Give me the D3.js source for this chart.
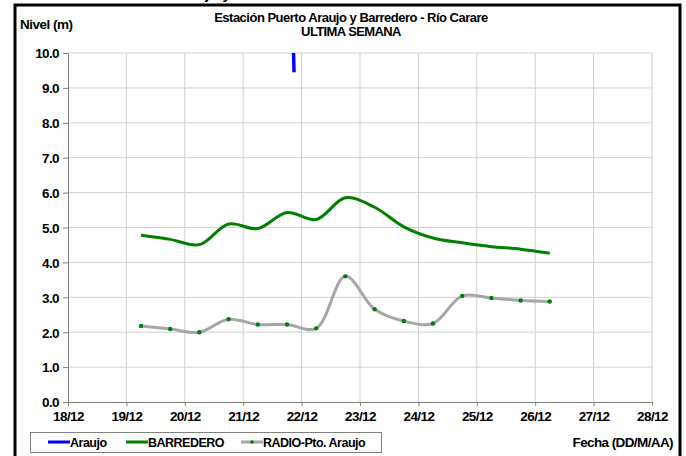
<!DOCTYPE html>
<html>
<head>
<meta charset="utf-8">
<script src="https://cdn.jsdelivr.net/npm/d3@7"></script>
<style>
body { margin: 0; background: #fff; }
text { font-family: "Liberation Sans", Arial, sans-serif; font-weight: bold; fill: #000; }
</style>
</head>
<body>
<svg width="686" height="456"></svg>
<script>
// days counted from 18/12 00:00
var dayLabels = ["18/12","19/12","20/12","21/12","22/12","23/12","24/12","25/12","26/12","27/12","28/12"]
var yTicks = [0,1,2,3,4,5,6,7,8,9,10]

var araujoX = [3.86, 3.87]
var araujoY = [10.2, 9.45]

var horas = [1.25,1.75,2.25,2.75,3.25,3.75,4.25,4.75,5.25,5.75,6.25,6.75,7.25,7.75,8.25]
var barredero = [4.78,4.66,4.51,5.10,4.97,5.43,5.23,5.85,5.58,5.02,4.70,4.56,4.45,4.38,4.26]
var radio = [2.18,2.09,2.00,2.37,2.22,2.22,2.11,3.60,2.66,2.32,2.25,3.04,2.98,2.91,2.88]

var svg = d3.select("svg")

var x = d3.scaleLinear().domain([0, 10]).range([68, 652])
var y = d3.scaleLinear().domain([0, 10]).range([402, 53])

// outer frame
svg.append("rect").attr("x", 15).attr("y", 5).attr("width", 665).attr("height", 460)
    .attr("fill", "none").attr("stroke", "#000").attr("stroke-width", 3)

// leftover text from above the frame (only descenders show)
svg.append("text").attr("x", 232).attr("y", -1).attr("text-anchor", "end")
    .style("font-size", "15px").style("font-style", "italic").text("Araujo y")

// grid
svg.append("g").selectAll("line").data(yTicks.slice(1)).enter().append("line")
    .attr("x1", x(0)).attr("x2", x(10))
    .attr("y1", function (d) { return y(d) }).attr("y2", function (d) { return y(d) })
    .attr("stroke", "#cfcfcf").attr("stroke-width", 1)
svg.append("g").selectAll("line").data(d3.range(1, 11)).enter().append("line")
    .attr("x1", function (d) { return x(d) }).attr("x2", function (d) { return x(d) })
    .attr("y1", y(0)).attr("y2", y(10))
    .attr("stroke", "#cfcfcf").attr("stroke-width", 1)

// axes
var yAxis = d3.axisLeft(y).tickValues(yTicks).tickFormat(d3.format(".1f")).tickSize(5).tickPadding(4)
var gy = svg.append("g").attr("transform", "translate(" + x(0) + ",0)").call(yAxis)
var xAxis = d3.axisBottom(x).tickValues(d3.range(0, 11)).tickFormat(function (d) { return dayLabels[d] }).tickSize(4).tickPadding(4)
var gx = svg.append("g").attr("transform", "translate(0," + y(0) + ")").call(xAxis)
;[gx, gy].forEach(function (g) {
    g.select(".domain").attr("stroke", "#808080")
    g.selectAll(".tick line").attr("stroke", "#808080")
    g.selectAll("text").style("font-size", "13.5px").style("letter-spacing", "-0.6px")
        .style("font-family", "'Liberation Sans', Arial, sans-serif").style("font-weight", "bold").attr("fill", "#000")
})
gy.selectAll("text").attr("dy", "0.36em")
gx.selectAll("text").attr("dy", "0.85em")

// clip for plot
svg.append("clipPath").attr("id", "plot").append("rect")
    .attr("x", x(0)).attr("y", y(10)).attr("width", x(10) - x(0)).attr("height", y(0) - y(10))

var line = d3.line().x(function (d) { return x(d[0]) }).y(function (d) { return y(d[1]) })
    .curve(d3.curveCatmullRom.alpha(0.5))

var plot = svg.append("g").attr("clip-path", "url(#plot)")
plot.append("path").datum(d3.zip(horas, radio)).attr("d", line)
    .attr("fill", "none").attr("stroke", "#a6a6a6").attr("stroke-width", 3)
plot.selectAll("circle.r").data(d3.zip(horas, radio)).enter().append("circle")
    .attr("class", "r").attr("cx", function (d) { return x(d[0]) }).attr("cy", function (d) { return y(d[1]) })
    .attr("r", 2.2).attr("fill", "#008000")
plot.append("path").datum(d3.zip(horas, barredero)).attr("d", line)
    .attr("fill", "none").attr("stroke", "#008000").attr("stroke-width", 3)
plot.append("path").datum(d3.zip(araujoX, araujoY)).attr("d", d3.line().x(function (d) { return x(d[0]) }).y(function (d) { return y(d[1]) }))
    .attr("fill", "none").attr("stroke", "#0000ff").attr("stroke-width", 3.5)

// titles
svg.append("text").attr("x", 351).attr("y", 22).attr("text-anchor", "middle")
    .style("font-size", "13px").style("letter-spacing", "-0.5px").text("Estación Puerto Araujo y Barredero - Río Carare")
svg.append("text").attr("x", 351).attr("y", 36).attr("text-anchor", "middle")
    .style("font-size", "13px").style("letter-spacing", "-0.6px").text("ULTIMA SEMANA")
svg.append("text").attr("x", 20).attr("y", 29)
    .style("font-size", "13.5px").style("letter-spacing", "-0.5px").text("Nivel (m)")
svg.append("text").attr("x", 673).attr("y", 447).attr("text-anchor", "end")
    .style("font-size", "13.5px").style("letter-spacing", "-0.6px").text("Fecha (DD/M/AA)")

// legend
var legNames = ["Araujo", "BARREDERO", "RADIO-Pto. Araujo"]
var legColors = ["#0000ff", "#008000", "#a6a6a6"]
var legX = [48, 126, 241]
svg.append("rect").attr("x", 30.5).attr("y", 432.5).attr("width", 351).attr("height", 20)
    .attr("fill", "#fff").attr("stroke", "#808080")
var leg = svg.append("g").selectAll("g").data(legNames).enter().append("g")
    .attr("transform", function (d, i) { return "translate(" + legX[i] + ",442)" })
leg.append("line").attr("x1", 0).attr("x2", 22).attr("y1", 0).attr("y2", 0)
    .attr("stroke", function (d, i) { return legColors[i] }).attr("stroke-width", 3)
leg.filter(function (d, i) { return i === 2 }).append("circle").attr("cx", 11).attr("cy", 0).attr("r", 1.8).attr("fill", "#008000")
leg.append("text").attr("x", 22).attr("y", 4.5)
    .style("font-size", "12.5px").style("letter-spacing", "-0.5px").text(function (d) { return d })
</script>
</body>
</html>
